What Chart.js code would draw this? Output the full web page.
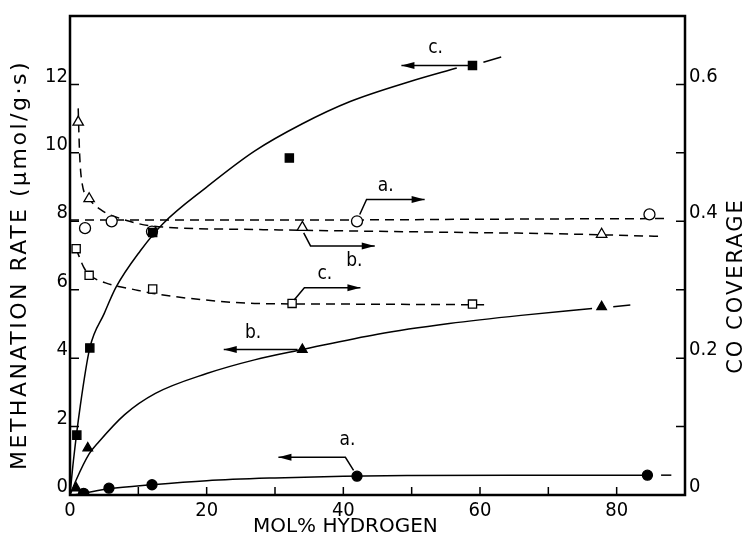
<!DOCTYPE html>
<html>
<head>
<meta charset="utf-8">
<script src="https://cdn.jsdelivr.net/npm/chart.js@4.4.1/dist/chart.umd.min.js"></script>
<style>html,body{margin:0;padding:0;background:#fff}</style>
</head>
<body>
<canvas id="methChart" width="746" height="541"></canvas>
<script>
// measured points, methanation rate (left axis, filled markers)
const rateA_x = [2.0, 5.7, 12.0, 42.0, 84.5];
const rateA_y = [0.05, 0.20, 0.30, 0.55, 0.58];
const rateB_x = [0.9, 2.6, 34.0, 77.8];
const rateB_y = [0.20, 1.37, 4.25, 5.50];
const rateC_x = [1.0, 2.9, 12.1, 32.1, 58.9];
const rateC_y = [1.75, 4.30, 7.67, 9.85, 12.55];

// measured points, CO coverage (right axis, open markers)
const covA_x = [2.2, 6.1, 12.0, 42.0, 84.8];
const covA_y = [0.390, 0.400, 0.385, 0.400, 0.410];
const covB_x = [1.2, 2.8, 34.0, 77.8];
const covB_y = [0.545, 0.433, 0.391, 0.381];
const covC_x = [0.9, 2.8, 12.1, 32.5, 58.9];
const covC_y = [0.360, 0.321, 0.301, 0.280, 0.279];

// drawn curves, read along the lines of the figure
const fitRateA_x = [0.5, 2.0, 5.7, 12, 20, 30, 40, 50, 65, 84];
const fitRateA_y = [0, 0.05, 0.18, 0.30, 0.42, 0.50, 0.55, 0.57, 0.58, 0.58];
const tailRateA_x = [86.5, 88];
const tailRateA_y = [0.58, 0.58];
const fitRateB_x = [0, 0.9, 2.8, 4.2, 8, 12.5, 20, 27, 34, 45, 55.5, 66, 76.4];
const fitRateB_y = [0, 0.44, 1.20, 1.55, 2.35, 2.97, 3.55, 3.95, 4.25, 4.70, 5.01, 5.25, 5.45];
const tailRateB_x = [79.5, 82];
const tailRateB_y = [5.50, 5.55];
const fitRateC_x = [0, 0.5, 1.5, 2.9, 5, 6.7, 10.3, 13.6, 20, 27, 34, 41, 50, 56.6];
const fitRateC_y = [0, 1.0, 2.6, 4.3, 5.3, 6.06, 7.14, 7.93, 9.0, 10.05, 10.85, 11.5, 12.1, 12.48];
const tailRateC_x = [60.5, 63.1];
const tailRateC_y = [12.65, 12.8];

const fitCovA_x = [0, 20, 40, 60, 87];
const fitCovA_y = [0.402, 0.402, 0.402, 0.403, 0.404];
const fitCovB_x = [1.2, 1.4, 1.7, 2.8, 4.8, 7.7, 12.1, 27, 55, 70, 86.5];
const fitCovB_y = [0.565, 0.50, 0.46, 0.433, 0.415, 0.403, 0.393, 0.388, 0.384, 0.382, 0.378];
const fitCovC_x = [0.9, 1.2, 2.0, 2.8, 5.2, 10, 12.5, 19.8, 27, 40, 60.6];
const fitCovC_y = [0.360, 0.352, 0.333, 0.322, 0.310, 0.299, 0.294, 0.285, 0.280, 0.279, 0.278];

// axis ticks
const xTickMarks = [10, 20, 30, 40, 50, 60, 70, 80];
const leftTickMarks = [2, 4, 6, 8, 10, 12];
const rightTickMarks = [0.1, 0.2, 0.3, 0.4, 0.5, 0.6];

// arrow labels (data coords)
const arrows = [
  {axis: 'y',  path: [[58.3, 12.55], [48.5, 12.55]], label: 'c.', at: [53.5, 13.05]},
  {axis: 'y',  path: [[33.3, 4.25], [22.5, 4.25]], label: 'b.', at: [26.8, 4.72]},
  {axis: 'y',  path: [[41.5, 0.72], [40.3, 1.1], [30.5, 1.1]], label: 'a.', at: [40.6, 1.6]},
  {axis: 'y1', path: [[42.4, 0.41], [43.4, 0.432], [51.9, 0.432]], label: 'a.', at: [46.2, 0.452]},
  {axis: 'y1', path: [[34.2, 0.383], [35.2, 0.364], [44.6, 0.364]], label: 'b.', at: [41.6, 0.342]},
  {axis: 'y1', path: [[32.8, 0.285], [34.3, 0.303], [42.5, 0.303]], label: 'c.', at: [37.3, 0.323]}
];

const FONT = "'DejaVu Sans Condensed', 'Liberation Sans Narrow', 'DejaVu Sans', sans-serif";
const TITLE_FONT = "'DejaVu Sans', sans-serif";

function pts(xs, ys) {
  return xs.map((x, i) => ({x: x, y: ys[i]}));
}

function curve(xs, ys, axis, dashed) {
  return {
    data: pts(xs, ys), yAxisID: axis, showLine: true, pointRadius: 0,
    borderColor: '#000', borderWidth: 1.5, borderDash: dashed ? [9, 6] : [],
    cubicInterpolationMode: 'monotone', fill: false, order: 2
  };
}

function marks(xs, ys, axis, style, filled, r) {
  return {
    data: pts(xs, ys), yAxisID: axis, showLine: false,
    pointStyle: style, pointRadius: r, pointHoverRadius: r,
    pointBackgroundColor: filled ? '#000' : '#fff', pointBorderColor: '#000',
    pointBorderWidth: 1.3, order: 1
  };
}

function vText(ctx, text, x, y) {
  ctx.save();
  ctx.translate(x, y);
  ctx.rotate(-Math.PI / 2);
  ctx.fillText(text, 0, 0);
  ctx.restore();
}

const decorPlugin = {
  id: 'decor',
  afterDraw(chart) {
    const ctx = chart.ctx;
    const a = chart.chartArea;
    const sx = chart.scales.x;
    ctx.save();
    ctx.strokeStyle = '#000';
    ctx.fillStyle = '#000';
    // inward ticks
    ctx.lineWidth = 1.5;
    ctx.beginPath();
    xTickMarks.forEach(v => {
      const px = sx.getPixelForValue(v);
      ctx.moveTo(px, a.bottom); ctx.lineTo(px, a.bottom - 8);
    });
    leftTickMarks.forEach(v => {
      const py = chart.scales.y.getPixelForValue(v);
      ctx.moveTo(a.left, py); ctx.lineTo(a.left + 9, py);
    });
    rightTickMarks.forEach(v => {
      const py = chart.scales.y1.getPixelForValue(v);
      ctx.moveTo(a.right, py); ctx.lineTo(a.right - 9, py);
    });
    ctx.stroke();
    // frame
    ctx.lineWidth = 2.5;
    ctx.strokeRect(a.left, a.top, a.right - a.left, a.bottom - a.top);
    // arrows
    ctx.lineWidth = 1.5;
    ctx.font = '19px ' + FONT;
    ctx.textAlign = 'center';
    ctx.textBaseline = 'middle';
    arrows.forEach(ar => {
      const sy = chart.scales[ar.axis];
      const p = ar.path.map(q => [sx.getPixelForValue(q[0]), sy.getPixelForValue(q[1])]);
      ctx.beginPath();
      ctx.moveTo(p[0][0], p[0][1]);
      for (let i = 1; i < p.length; i++) ctx.lineTo(p[i][0], p[i][1]);
      ctx.stroke();
      const e = p[p.length - 1], s = p[p.length - 2];
      const ang = Math.atan2(e[1] - s[1], e[0] - s[0]);
      ctx.beginPath();
      ctx.moveTo(e[0], e[1]);
      ctx.lineTo(e[0] - 13 * Math.cos(ang) + 3.5 * Math.sin(ang), e[1] - 13 * Math.sin(ang) - 3.5 * Math.cos(ang));
      ctx.lineTo(e[0] - 13 * Math.cos(ang) - 3.5 * Math.sin(ang), e[1] - 13 * Math.sin(ang) + 3.5 * Math.cos(ang));
      ctx.closePath();
      ctx.fill();
      ctx.fillText(ar.label, sx.getPixelForValue(ar.at[0]), sy.getPixelForValue(ar.at[1]));
    });
    // axis titles
    ctx.font = '22px ' + TITLE_FONT;
    ctx.letterSpacing = '2.5px';
    vText(ctx, 'METHANATION RATE (μmol/g·s)', 20, 265);
    ctx.font = '21px ' + TITLE_FONT;
    ctx.letterSpacing = '2px';
    vText(ctx, 'CO COVERAGE', 737, 286);
    ctx.font = '20px ' + TITLE_FONT;
    ctx.letterSpacing = '0px';
    ctx.fillText('MOL% HYDROGEN', sx.getPixelForValue(40.3), 527);
    ctx.restore();
  }
};

const tickFont = {family: FONT, size: 20};

new Chart(document.getElementById('methChart'), {
  type: 'scatter',
  data: {
    datasets: [
      curve(fitRateA_x, fitRateA_y, 'y', false),
      curve(tailRateA_x, tailRateA_y, 'y', false),
      curve(fitRateB_x, fitRateB_y, 'y', false),
      curve(tailRateB_x, tailRateB_y, 'y', false),
      curve(fitRateC_x, fitRateC_y, 'y', false),
      curve(tailRateC_x, tailRateC_y, 'y', false),
      curve(fitCovA_x, fitCovA_y, 'y1', true),
      curve(fitCovB_x, fitCovB_y, 'y1', true),
      curve(fitCovC_x, fitCovC_y, 'y1', true),
      marks(rateA_x, rateA_y, 'y', 'circle', true, 5),
      marks(rateB_x, rateB_y, 'y', 'triangle', true, 5.5),
      marks(rateC_x, rateC_y, 'y', 'rect', true, 5.8),
      marks(covA_x, covA_y, 'y1', 'circle', false, 5.5),
      marks(covB_x, covB_y, 'y1', 'triangle', false, 6),
      marks(covC_x, covC_y, 'y1', 'rect', false, 5.8)
    ]
  },
  options: {
    responsive: false,
    animation: false,
    events: [],
    layout: {padding: {top: 13, left: 0, right: 0, bottom: 0}},
    plugins: {legend: {display: false}, tooltip: {enabled: false}},
    scales: {
      x: {
        type: 'linear', min: 0, max: 90,
        grid: {display: false, drawTicks: false}, border: {display: false},
        ticks: {stepSize: 20, includeBounds: false, padding: 4, color: '#000', font: tickFont,
                maxRotation: 0, callback: v => (v <= 80 ? v : '')},
        afterFit: s => { s.height = 46; }
      },
      y: {
        type: 'linear', position: 'left', min: 0, max: 14,
        grid: {display: false, drawTicks: false}, border: {display: false},
        ticks: {stepSize: 2, includeBounds: false, padding: 2, labelOffset: -8, color: '#000', font: tickFont,
                callback: v => (v <= 12 ? v : '')},
        afterFit: s => { s.width = 70; }
      },
      y1: {
        type: 'linear', position: 'right', min: 0, max: 0.7,
        grid: {display: false, drawTicks: false}, border: {display: false},
        ticks: {stepSize: 0.2, includeBounds: false, padding: 4, labelOffset: -8, color: '#000', font: tickFont,
                callback: v => (v === 0 ? '0' : (v <= 0.65 ? v.toFixed(1) : ''))},
        afterFit: s => { s.width = 61; }
      }
    }
  },
  plugins: [decorPlugin]
});
</script>
</body>
</html>
